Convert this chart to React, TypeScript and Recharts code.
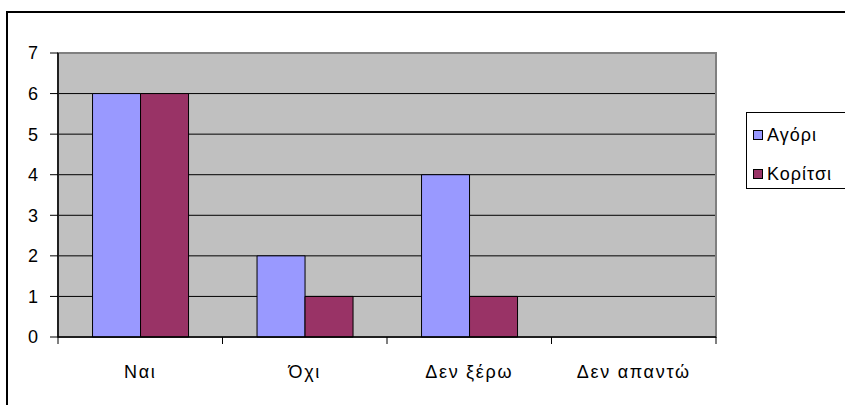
import React from 'react';
import { BarChart, Bar, XAxis, YAxis, CartesianGrid, ReferenceArea } from 'recharts';

const categories = ['Ναι', 'Όχι', 'Δεν ξέρω', 'Δεν απαντώ'];
const boys = [6, 2, 4, 0];
const girls = [6, 1, 1, 0];
const yTicks = [0, 1, 2, 3, 4, 5, 6, 7];
const seriesNames = ['Αγόρι', 'Κορίτσι'];
const seriesColors = ['#9999FF', '#993366'];

const data = categories.map((name, i) => ({ name, boys: boys[i], girls: girls[i] }));

const FONT = '"Liberation Sans", Arial, sans-serif';
const BAND = 658 / 4;

const CategoryTick = (props: any) => {
  const { x, y, payload, index } = props;
  const half = BAND / 2;
  const top = y - 8;
  return (
    <g>
      <line x1={x - half} y1={top} x2={x - half} y2={top + 7} stroke="#000" />
      {index === categories.length - 1 && (
        <line x1={x + half} y1={top} x2={x + half} y2={top + 7} stroke="#000" />
      )}
      <text
        x={x}
        y={y + 33}
        textAnchor="middle"
        fill="#000"
        fontSize={18}
        fontFamily={FONT}
        letterSpacing={1.7}
      >
        {payload.value}
      </text>
    </g>
  );
};

const LegendBox = () => (
  <div
    style={{
      position: 'absolute',
      left: 746,
      top: 112,
      width: 140,
      height: 77,
      border: '1px solid #000',
      background: '#fff',
      fontFamily: FONT,
      fontSize: 18,
      letterSpacing: 1,
      color: '#000',
      boxSizing: 'border-box',
    }}
  >
    {seriesNames.map((label, i) => (
      <div
        key={label}
        style={{ position: 'absolute', left: 6, top: 12 + i * 39, display: 'flex', alignItems: 'center', height: 20 }}
      >
        <span
          style={{
            display: 'inline-block',
            width: 8,
            height: 8,
            border: '1px solid #000',
            background: seriesColors[i],
            marginRight: 4,
          }}
        />
        <span>{label}</span>
      </div>
    ))}
  </div>
);

export default function App() {
  return (
    <div style={{ position: 'absolute', left: 0, top: 0, width: 845, height: 405, overflow: 'hidden', background: '#fff' }}>
      <div
        style={{
          position: 'absolute',
          left: 6,
          top: 11,
          width: 900,
          height: 450,
          border: '2px solid #000',
        }}
      />
      <div style={{ position: 'absolute', left: 0, top: 0 }}>
        <BarChart
          width={845}
          height={405}
          data={data}
          margin={{ top: 53, right: 129, bottom: 38, left: 28 }}
          barCategoryGap="21%"
          barGap={0}
        >
          <CartesianGrid
            vertical={false}
            horizontalValues={[1, 2, 3, 4, 5, 6]}
            stroke="#000"
            strokeOpacity={1}
            fill="#C0C0C0"
            fillOpacity={1}
          />
          <ReferenceArea y1={0} y2={7} fill="none" stroke="#808080" strokeWidth={2} ifOverflow="visible" />
          <XAxis
            dataKey="name"
            height={30}
            axisLine={{ stroke: '#000', strokeWidth: 1.5 }}
            tickLine={false}
            tick={<CategoryTick />}
            interval={0}
          />
          <YAxis
            width={30}
            domain={[0, 7]}
            ticks={yTicks}
            interval={0}
            axisLine={{ stroke: '#000', strokeWidth: 1.5 }}
            tickLine={{ stroke: '#000' }}
            tickSize={8}
            tickMargin={12}
            tick={{ fill: '#000', fontSize: 18, fontFamily: FONT }}
          />
          <Bar dataKey="boys" name={seriesNames[0]} fill={seriesColors[0]} stroke="#000" strokeWidth={1} isAnimationActive={false} />
          <Bar dataKey="girls" name={seriesNames[1]} fill={seriesColors[1]} stroke="#000" strokeWidth={1} isAnimationActive={false} />
        </BarChart>
      </div>
      <LegendBox />
    </div>
  );
}
